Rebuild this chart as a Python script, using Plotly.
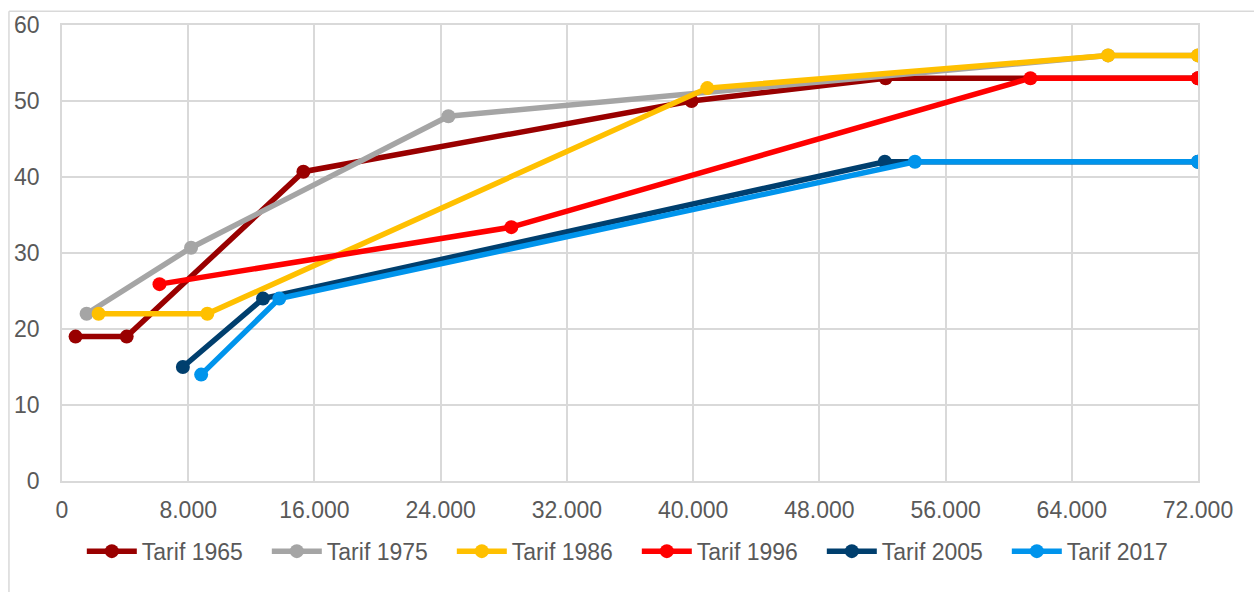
import plotly.graph_objects as go

# Data (income in EUR, marginal tax rate in %)
names = ["Tarif 1965", "Tarif 1975", "Tarif 1986", "Tarif 1996", "Tarif 2005", "Tarif 2017"]
x_1965 = [860, 4100, 15300, 39900, 52200, 72000]
y_1965 = [19, 19, 40.7, 50, 53, 53]
x_1975 = [1560, 8180, 24490, 66300, 72000]
y_1975 = [22, 30.7, 48, 56, 56]
x_1986 = [2320, 9210, 40900, 66300, 72000]
y_1986 = [22, 22, 51.7, 56, 56]
x_1996 = [6180, 28480, 61380, 72000]
y_1996 = [25.9, 33.4, 53, 53]
x_2005 = [7660, 12740, 52150, 72000]
y_2005 = [15, 24, 42, 42]
x_2017 = [8820, 13770, 54060, 72000]
y_2017 = [14, 24, 42, 42]

xs = [x_1965, x_1975, x_1986, x_1996, x_2005, x_2017]
ys = [y_1965, y_1975, y_1986, y_1996, y_2005, y_2017]
colors = ["#990000", "#A5A5A5", "#FFC000", "#FF0000", "#003F6E", "#0094EC"]

x_tickvals = [0, 8000, 16000, 24000, 32000, 40000, 48000, 56000, 64000, 72000]
x_ticktext = ["0", "8.000", "16.000", "24.000", "32.000", "40.000", "48.000", "56.000", "64.000", "72.000"]
y_tickvals = [0, 10, 20, 30, 40, 50, 60]

fig = go.Figure()
for n, x, y, c in zip(names, xs, ys, colors):
    fig.add_trace(go.Scatter(
        x=x, y=y, name=n, mode="lines+markers",
        line=dict(color=c, width=5.5),
        marker=dict(color=c, size=14),
    ))

font = dict(family="Liberation Sans, Arial, sans-serif", size=23, color="#595959")
grid = "#D9D9D9"

fig.update_layout(
    width=1254, height=592,
    margin=dict(l=62, r=56, t=21, b=111),
    paper_bgcolor="white", plot_bgcolor="white",
    font=font,
    showlegend=True,
    legend=dict(orientation="h", x=0.506, xanchor="center", y=-0.154, yanchor="middle",
                font=font, itemwidth=50, entrywidth=120, tracegroupgap=0),
    shapes=[
        dict(type="line", xref="paper", yref="paper", x0=-0.0467, x1=-0.0467, y0=1.03, y1=-0.25,
             line=dict(color="#D9D9D9", width=1.5)),
        dict(type="line", xref="paper", yref="paper", x0=-0.0467, x1=1.06, y0=1.03, y1=1.03,
             line=dict(color="#D9D9D9", width=1.5)),
    ],
)
fig.update_xaxes(
    range=[0, 72000], tickvals=x_tickvals, ticktext=x_ticktext,
    showgrid=True, gridcolor=grid, gridwidth=1.5,
    showline=True, linecolor=grid, linewidth=1.5, mirror=True,
    zeroline=False, ticks="", ticklabelstandoff=8, tickfont=font,
)
fig.update_yaxes(
    range=[0, 60], tickvals=y_tickvals,
    showgrid=True, gridcolor=grid, gridwidth=1.5,
    showline=True, linecolor=grid, linewidth=1.5, mirror=True,
    zeroline=False, ticks="", ticklabelstandoff=16, tickfont=font,
)

fig.write_html("out.html", config={"displayModeBar": False},
               post_script="document.body.style.margin='0';")
